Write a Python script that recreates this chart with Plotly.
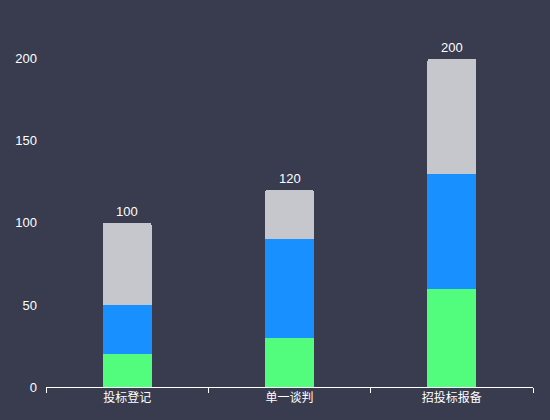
import plotly.graph_objects as go

categories = ["投标登记", "单一谈判", "招投标报备"]
green_values = [20, 30, 60]
blue_values = [30, 60, 70]
gray_values = [50, 30, 70]
totals = [g + b + r for g, b, r in zip(green_values, blue_values, gray_values)]

FONT = "Liberation Sans, Noto Sans CJK SC, sans-serif"

fig = go.Figure()
for vals, color in [(green_values, "#52fc7c"),
                    (blue_values, "#1890ff"),
                    (gray_values, "#c6c7cc")]:
    fig.add_trace(go.Bar(x=categories, y=vals, width=0.3,
                         marker=dict(color=color, line=dict(width=0)),
                         hoverinfo="skip"))

# Totals above each stack
for cat, total in zip(categories, totals):
    fig.add_annotation(x=cat, y=total, text=str(total), showarrow=False,
                       yanchor="bottom", yshift=2,
                       font=dict(color="white", size=13, family=FONT))

fig.update_layout(
    width=550, height=420,
    barmode="stack", barcornerradius=2,
    showlegend=False,
    paper_bgcolor="#383c4e", plot_bgcolor="#383c4e",
    margin=dict(l=46, r=17, t=26, b=33),
    font=dict(family=FONT, color="white", size=12),
    xaxis=dict(showline=True, linecolor="white", linewidth=1,
               ticks="outside", tickson="boundaries", ticklen=5,
               tickcolor="white", showgrid=False,
               tickfont=dict(size=12, color="white")),
    yaxis=dict(range=[0, 220], dtick=50, showgrid=False, zeroline=False,
               showline=False, ticks="", ticklabelstandoff=8,
               tickfont=dict(size=13, color="white")),
)

fig.write_html("out.html", config={"displayModeBar": False},
               post_script="document.body.style.margin='0';"
                           "document.body.style.background='#383c4e';")
